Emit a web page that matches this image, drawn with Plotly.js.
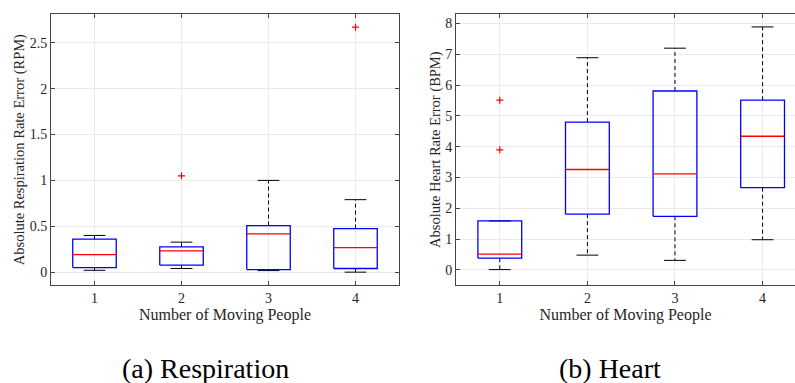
<!DOCTYPE html>
<html>
<head>
<meta charset="utf-8">
<script src="https://cdn.plot.ly/plotly-3.0.1.min.js"></script>
<style>html,body{margin:0;padding:0;background:#fff;}#chart{width:795px;height:383px;}</style>
</head>
<body>
<div id="chart"></div>
<script>
// Categories
const groups = [1, 2, 3, 4];
const tickLabels = ['1', '2', '3', '4'];

// (a) Respiration: box statistics
const respLowerWhisker = [0.02, 0.04, 0.017, 0.0];
const respQ1 = [0.05, 0.076, 0.028, 0.04];
const respMedian = [0.19, 0.232, 0.417, 0.268];
const respQ3 = [0.36, 0.276, 0.508, 0.475];
const respUpperWhisker = [0.40, 0.327, 1.00, 0.79];
const respOutlierX = [2, 4];
const respOutlierY = [1.05, 2.67];

// (b) Heart: box statistics
const heartLowerWhisker = [0.01, 0.48, 0.31, 0.98];
const heartQ1 = [0.38, 1.81, 1.74, 2.67];
const heartMedian = [0.51, 3.26, 3.12, 4.34];
const heartQ3 = [1.59, 4.80, 5.81, 5.51];
const heartUpperWhisker = [1.59, 6.89, 7.20, 7.89];
const heartOutlierX = [1, 1];
const heartOutlierY = [5.51, 3.90];

const BOX_W = 0.5, CAP_W = 0.25;
const SERIF = 'Liberation Serif, Times New Roman, DejaVu Serif, serif';

function boxTraces(lw, q1, med, q3, uw, ox, oy, xa, ya) {
  const bx = [], by = [], mx = [], my = [], wx = [], wy = [], cx = [], cy = [];
  groups.forEach((g, i) => {
    const l = g - BOX_W / 2, r = g + BOX_W / 2;
    bx.push(l, r, r, l, l, null); by.push(q1[i], q1[i], q3[i], q3[i], q1[i], null);
    mx.push(l, r, null); my.push(med[i], med[i], null);
    wx.push(g, g, null, g, g, null); wy.push(q3[i], uw[i], null, q1[i], lw[i], null);
    cx.push(g - CAP_W / 2, g + CAP_W / 2, null, g - CAP_W / 2, g + CAP_W / 2, null);
    cy.push(uw[i], uw[i], null, lw[i], lw[i], null);
  });
  const base = {type: 'scatter', mode: 'lines', xaxis: xa, yaxis: ya, hoverinfo: 'skip', showlegend: false};
  return [
    Object.assign({}, base, {x: wx, y: wy, line: {color: '#000', width: 1, dash: '4px,3px'}}),
    Object.assign({}, base, {x: cx, y: cy, line: {color: '#000', width: 1}}),
    Object.assign({}, base, {x: bx, y: by, line: {color: '#0000ff', width: 1.3}}),
    Object.assign({}, base, {x: mx, y: my, line: {color: '#ff0000', width: 1.3}}),
    {type: 'scatter', mode: 'markers', x: ox, y: oy, xaxis: xa, yaxis: ya, showlegend: false,
     marker: {symbol: 'cross-thin-open', size: 5, color: '#ff0000', line: {color: '#ff0000', width: 1.2}}}
  ];
}

const data = [].concat(
  boxTraces(respLowerWhisker, respQ1, respMedian, respQ3, respUpperWhisker, respOutlierX, respOutlierY, 'x', 'y'),
  boxTraces(heartLowerWhisker, heartQ1, heartMedian, heartQ3, heartUpperWhisker, heartOutlierX, heartOutlierY, 'x2', 'y2')
);

const W = 795, H = 383;
const yDom = [(H - 285) / H, (H - 14.3) / H];
const tickFont = {family: SERIF, size: 14, color: '#262626'};
const titleFont = {family: SERIF, size: 16, color: '#262626'};
const yTitleFont = {family: SERIF, size: 14.5, color: '#262626'};

const axCommon = {
  showline: true, linecolor: '#444', linewidth: 1,
  ticks: 'inside', ticklen: 4, tickcolor: '#444', tickwidth: 1,
  showgrid: true, gridcolor: '#ebebeb', gridwidth: 1,
  zeroline: false, tickfont: tickFont, fixedrange: true
};

const layout = {
  width: W, height: H,
  margin: {l: 0, r: 0, t: 0, b: 0},
  paper_bgcolor: '#fff', plot_bgcolor: '#fff',
  showlegend: false,
  font: {family: SERIF},
  xaxis: Object.assign({}, axCommon, {
    domain: [51 / W, 399 / W], range: [0.5, 4.5], mirror: 'ticks',
    tickvals: groups, ticktext: tickLabels, anchor: 'y',
    title: {text: 'Number of Moving People', font: titleFont, standoff: 2}
  }),
  yaxis: Object.assign({}, axCommon, {
    domain: yDom, range: [-0.14, 2.81], mirror: 'ticks', anchor: 'x',
    tickvals: [0, 0.5, 1, 1.5, 2, 2.5], ticktext: ['0', '0.5', '1', '1.5', '2', '2.5'],
    title: {text: 'Absolute Respiration Rate Error (RPM)', font: yTitleFont, standoff: 1}
  }),
  xaxis2: Object.assign({}, axCommon, {
    domain: [456 / W, 1], range: [0.5, 4.37], mirror: 'ticks',
    tickvals: groups, ticktext: tickLabels, anchor: 'y2',
    title: {text: 'Number of Moving People', font: titleFont, standoff: 2}
  }),
  yaxis2: Object.assign({}, axCommon, {
    domain: yDom, range: [-0.49, 8.3], mirror: false, anchor: 'x2',
    tickvals: [0, 1, 2, 3, 4, 5, 6, 7, 8],
    title: {text: 'Absolute Heart Rate Error (BPM)', font: yTitleFont, standoff: 1}
  }),
  annotations: [
    {xref: 'paper', yref: 'paper', x: 205 / W, y: (H - 368) / H, text: '(a) Respiration', showarrow: false,
     xanchor: 'center', yanchor: 'middle', font: {family: SERIF, size: 28, color: '#000'}},
    {xref: 'paper', yref: 'paper', x: 610 / W, y: (H - 368) / H, text: '(b) Heart', showarrow: false,
     xanchor: 'center', yanchor: 'middle', font: {family: SERIF, size: 28, color: '#000'}}
  ]
};

Plotly.newPlot('chart', data, layout, {displayModeBar: false, staticPlot: true});
</script>
</body>
</html>
